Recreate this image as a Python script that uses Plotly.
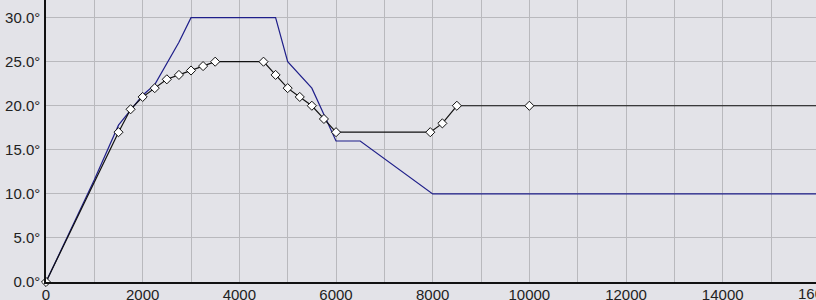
import plotly.graph_objects as go

# Data
blue_x = [0, 1000, 1500, 2000, 2250, 2750, 3000, 4750, 5000, 5500, 6000, 6500, 8000, 17000]
blue_y = [0, 11.6, 17.8, 21.2, 22.4, 27.2, 30, 30, 25, 22, 16, 16, 10, 10]

black_x = [0, 1500, 1750, 2000, 2250, 2500, 2750, 3000, 3250, 3500, 4500, 4750, 5000,
           5250, 5500, 5750, 6000, 7950, 8200, 8500, 10000, 17000]
black_y = [0, 17, 19.6, 21, 22, 23, 23.5, 24, 24.5, 25, 25, 23.5, 22,
           21, 20, 18.5, 17, 17, 18, 20, 20, 20]

x_range = [0, 15930]
y_range = [0, 32]
x_major = 2000
x_minor = 1000
y_step = 5
cut_tick = 16000

BG = "#e3e3e8"
GRID = "#b9b9bd"
FONT = "Liberation Sans, Arial, sans-serif"

fig = go.Figure()
fig.add_trace(go.Scatter(
    x=blue_x, y=blue_y, mode="lines",
    line=dict(color="#1f1f8a", width=1.2),
    showlegend=False, hoverinfo="skip",
))
fig.add_trace(go.Scatter(
    x=black_x, y=black_y, mode="lines+markers",
    line=dict(color="#111111", width=1.2),
    marker=dict(symbol="diamond", size=7, color="white",
                line=dict(color="#111111", width=1)),
    cliponaxis=False,
    showlegend=False, hoverinfo="skip",
))

fig.update_layout(
    width=816, height=300,
    margin=dict(l=46, r=0, t=0, b=18, pad=0),
    paper_bgcolor=BG, plot_bgcolor=BG,
    font=dict(family=FONT, size=15, color="#222222"),
    xaxis=dict(
        range=x_range, dtick=x_major, tick0=0, tickformat="d",
        showgrid=True, gridcolor=GRID, gridwidth=1,
        minor=dict(dtick=x_minor, showgrid=True, gridcolor=GRID, gridwidth=1),
        showline=True, linecolor="#111111", linewidth=1.5,
        zeroline=False, ticks="", ticklabelstandoff=-2, automargin=False,
        tickfont=dict(family=FONT, size=15, color="#222222"),
    ),
    yaxis=dict(
        range=y_range, dtick=y_step, tick0=0,
        tickformat=".1f", ticksuffix="°",
        showgrid=True, gridcolor=GRID, gridwidth=1,
        showline=True, linecolor="#111111", linewidth=1.5,
        zeroline=False, ticks="", ticklabelstandoff=1, automargin=False,
        tickfont=dict(family=FONT, size=15, color="#222222"),
    ),
)

# Partially cut-off tick label at the right edge (beyond the visible range)
fig.add_annotation(
    x=(cut_tick - x_range[0]) / (x_range[1] - x_range[0]), xref="paper",
    y=0, yref="paper", yanchor="top", xanchor="center", yshift=-1,
    text=str(cut_tick), showarrow=False,
    font=dict(family=FONT, size=15, color="#222222"),
)

fig.write_html("out.html")
